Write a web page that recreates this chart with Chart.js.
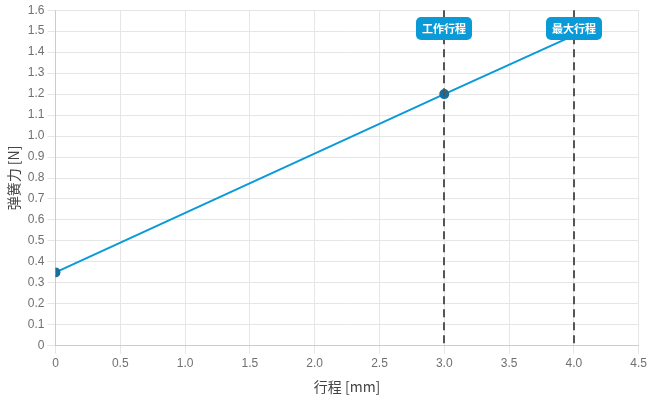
<!DOCTYPE html>
<html lang="zh">
<head>
  <meta charset="UTF-8">
  <title>弹簧力</title>
  <script src="https://cdn.jsdelivr.net/npm/chart.js"></script>
  <style>
    body { margin: 0; background: #fff; }
    #wrap { width: 650px; height: 400px; }
  </style>
</head>
<body>
  <div id="wrap"><canvas id="myChart"></canvas></div>
  <script>
    // 行程 [mm] / 弹簧力 [N]
    const strokeX = [0, 3, 4];
    const forceY = [0.35, 1.2, 1.48];
    const markerX = [3, 4];
    const markerLabels = ['工作行程', '最大行程'];

    const fmt = v => v === 0 ? '0' : v.toFixed(1);

    const markerPlugin = {
      id: 'markers',
      afterDatasetsDraw(chart) {
        const ctx = chart.ctx;
        const area = chart.chartArea;
        const xs = chart.scales.x;
        ctx.save();
        markerX.forEach((mx, i) => {
          const px = Math.round(xs.getPixelForValue(mx));
          ctx.strokeStyle = '#555';
          ctx.lineWidth = 2;
          ctx.setLineDash([8, 5]);
          ctx.beginPath();
          ctx.moveTo(px, area.top);
          ctx.lineTo(px, area.bottom);
          ctx.stroke();
          ctx.setLineDash([]);
          // label box
          ctx.font = 'bold 11px "Noto Sans CJK SC"';
          const w = ctx.measureText(markerLabels[i]).width + 12;
          const h = 23;
          const y = 17;
          ctx.fillStyle = '#0a9ad8';
          ctx.beginPath();
          ctx.roundRect(px - w / 2, y, w, h, 5);
          ctx.fill();
          ctx.fillStyle = '#fff';
          ctx.textAlign = 'center';
          ctx.textBaseline = 'middle';
          ctx.fillText(markerLabels[i], px, y + h / 2 + 0.5);
        });
        ctx.restore();
      }
    };

    const ctx = document.getElementById('myChart').getContext('2d');
    const myChart = new Chart(ctx, {
      type: 'scatter',
      data: {
        datasets: [{
          data: strokeX.map((x, i) => ({ x: x, y: forceY[i] })),
          showLine: true,
          borderColor: '#0a9ad8',
          borderWidth: 2,
          pointRadius: [4, 4, 0],
          pointBackgroundColor: '#17709c',
          pointBorderColor: '#17709c'
        }]
      },
      options: {
        responsive: true,
        maintainAspectRatio: false,
        animation: false,
        layout: { padding: { top: 2, right: 2, left: 1, bottom: 5 } },
        plugins: {
          legend: { display: false },
          tooltip: { enabled: false }
        },
        scales: {
          x: {
            type: 'linear',
            min: 0,
            max: 4.5,
            border: { color: '#ccc' },
            grid: { color: '#e6e6e6' },
            ticks: {
              stepSize: 0.5,
              color: '#707070',
              font: { size: 12 },
              padding: 3,
              callback: v => fmt(v)
            },
            title: {
              display: true,
              text: '行程 [mm]',
              color: '#444',
              font: { size: 14, family: '"Noto Sans CJK SC"' },
              padding: { top: 4, bottom: 0 }
            }
          },
          y: {
            min: 0,
            max: 1.6,
            border: { color: '#ccc' },
            grid: { color: '#e6e6e6' },
            ticks: {
              stepSize: 0.1,
              color: '#707070',
              font: { size: 12 },
              padding: 3,
              callback: v => fmt(Math.round(v * 10) / 10)
            },
            title: {
              display: true,
              text: '弹簧力 [N]',
              color: '#444',
              font: { size: 14, family: '"Noto Sans CJK SC"' },
              padding: { bottom: 3 }
            }
          }
        }
      },
      plugins: [markerPlugin]
    });
  </script>
</body>
</html>
